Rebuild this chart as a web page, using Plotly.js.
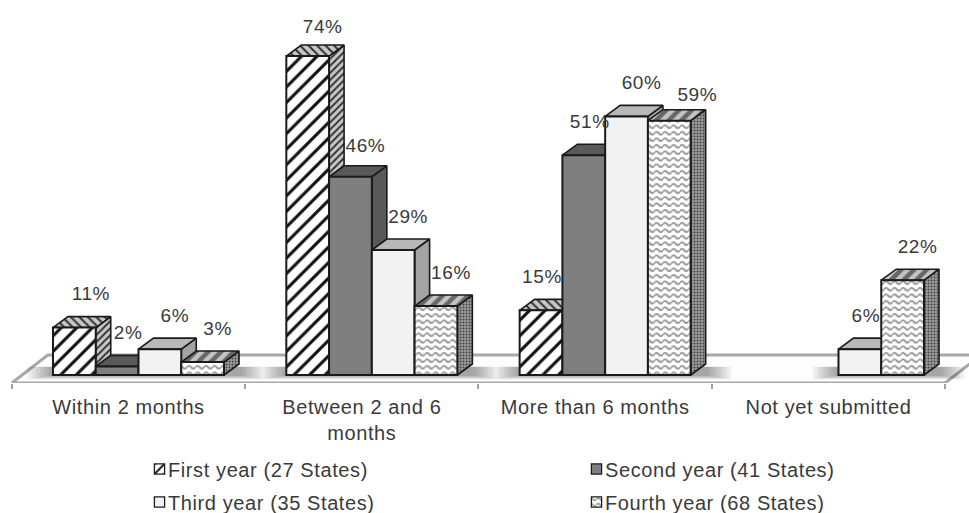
<!DOCTYPE html>
<html>
<head>
<meta charset="utf-8">
<script src="https://cdn.plot.ly/plotly-3.0.1.min.js"></script>
<style>
  html, body { margin: 0; padding: 0; background: #fff; }
  #chart { width: 969px; height: 513px; }
  #chart text { letter-spacing: 0.6px; }
</style>
</head>
<body>
<div id="chart"></div>
<script>
// Report timing by reporting year
const categories = ['Within 2 months', 'Between 2 and 6<br>months', 'More than 6 months', 'Not yet submitted'];
const firstYear  = [11, 74, 15, null];
const secondYear = [2, 46, 51, null];
const thirdYear  = [6, 29, 60, 6];
const fourthYear = [3, 16, 59, 22];
const seriesNames = ['First year (27 States)', 'Second year (41 States)', 'Third year (35 States)', 'Fourth year (68 States)'];

// Scale helpers: one x unit is one category group, y is in percent
const W = 969, PLOT_H = 383;
const UNIT_X = 233.33, UNIT_Y = 4.31;
const xRange = [-138.5 / UNIT_X, (W - 138.5) / UNIT_X];
const yRange = [-8 / UNIT_Y, 375 / UNIT_Y];
const DX = 15 / UNIT_X, DY = 11 / UNIT_Y;           // oblique depth of each bar
const GROUP = 0.733, SLOT = GROUP / 4;
const LABEL_SHIFT = -10 / UNIT_X;                   // category labels sit left of the bar groups
const slotLeft = (i, s) => i - GROUP / 2 + s * SLOT;
const ink = '#1a1a1a', textColor = '#3a3a3a';
const fontFamily = 'Liberation Sans, Arial, sans-serif';

const allSeries = [firstYear, secondYear, thirdYear, fourthYear];

// Side and top faces of each bar, as null-separated polygons
function sideFaces(vals, s) {
  const x = [], y = [];
  vals.forEach((v, i) => {
    if (v === null) return;
    const r = slotLeft(i, s) + SLOT;
    x.push(r, r + DX, r + DX, r, r, null);
    y.push(0, DY, v + DY, v, 0, null);
  });
  return { x, y };
}
function topFaces(vals, s) {
  const x = [], y = [];
  vals.forEach((v, i) => {
    if (v === null) return;
    const l = slotLeft(i, s), r = l + SLOT;
    x.push(l, r, r + DX, l + DX, l, null);
    y.push(v, v, v + DY, v + DY, v, null);
  });
  return { x, y };
}

const faceLine = { color: ink, width: 1.6 };
const sideStyle = [
  { fillcolor: '#b5b5b5', fillpattern: { shape: '/', fgcolor: '#333', bgcolor: '#c8c8c8', size: 5, solidity: 0.4 } },
  { fillcolor: '#595959' },
  { fillcolor: '#a3a3a3' },
  { fillcolor: '#8a8a8a', fillpattern: { shape: '.', fgcolor: '#444', bgcolor: '#9c9c9c', size: 3, solidity: 0.35 } }
];
const topStyle = [
  { fillcolor: '#b5b5b5', fillpattern: { shape: '\\', fgcolor: '#333', bgcolor: '#c8c8c8', size: 6, solidity: 0.35 } },
  { fillcolor: '#595959' },
  { fillcolor: '#b8b8b8' },
  { fillcolor: '#a0a0a0', fillpattern: { shape: '/', fgcolor: '#666', bgcolor: '#c4c4c4', size: 9, solidity: 0.5 } }
];

// Floor slab under the bars
const tickEdges = [0, 1, 2, 3, 4].map(k => k - 0.5 + LABEL_SHIFT);
const floorDX = 36 / UNIT_X, floorDY = 28 / UNIT_Y, floorY = yRange[0];
const traces = [{
  type: 'scatter', mode: 'lines', showlegend: false, hoverinfo: 'skip', cliponaxis: false,
  x: [tickEdges[0], tickEdges[4], tickEdges[4] + floorDX, tickEdges[0] + floorDX, tickEdges[0]],
  y: [floorY, floorY, floorY + floorDY, floorY + floorDY, floorY],
  fill: 'toself', fillcolor: '#fdfdfd', line: { color: '#a8a8a8', width: 3 }
}];

// Soft contact shadow around each group's base, built up from translucent layers
const shadowSteps = 10;
for (let k = shadowSteps; k >= 1; k--) {
  const x = [], y = [];
  categories.forEach((_, i) => {
    const used = allSeries.map((vals, s) => vals[i] !== null ? s : -1).filter(s => s >= 0);
    const l = slotLeft(i, used[0]), r = slotLeft(i, used[used.length - 1]) + SLOT + DX;
    const mx = k * 2.6 / UNIT_X, my = k * 0.45 / UNIT_Y;
    x.push(l - mx, r + mx, r + mx, l - mx, l - mx, null);
    y.push(-my, -my, DY * 0.75, DY * 0.75, -my, null);
  });
  traces.push({
    type: 'scatter', mode: 'lines', showlegend: false, hoverinfo: 'skip',
    x, y, fill: 'toself', fillcolor: 'rgba(0,0,0,0.04)', line: { width: 0 }
  });
}

// Depth faces first, left to right, so later tops cover earlier sides
allSeries.forEach((vals, s) => {
  traces.push(Object.assign({ type: 'scatter', mode: 'lines', showlegend: false, hoverinfo: 'skip',
    fill: 'toself', line: faceLine }, sideFaces(vals, s), sideStyle[s]));
  traces.push(Object.assign({ type: 'scatter', mode: 'lines', showlegend: false, hoverinfo: 'skip',
    fill: 'toself', line: faceLine }, topFaces(vals, s), topStyle[s]));
});

// Front faces: real bars on an overlaid pair of axes
const frontMarkers = [
  { color: '#fff', pattern: { shape: '/', fgcolor: '#111', bgcolor: '#fff', size: 11, solidity: 0.28 } },
  { color: '#7f7f7f' },
  { color: '#f2f2f2' },
  { color: '#fff', pattern: { shape: '-', fgcolor: '#a0a0a0', bgcolor: '#fff', size: 7, solidity: 0.3 } }
];
const xIdx = categories.map((_, i) => i);
allSeries.forEach((vals, s) => {
  traces.push({
    type: 'bar', name: seriesNames[s], x: xIdx, y: vals, xaxis: 'x2', yaxis: 'y2',
    legend: s < 2 ? 'legend' : 'legend2',
    marker: Object.assign({ line: { color: ink, width: 2 } }, frontMarkers[s]),
    hoverinfo: 'name+y'
  });
});

// Value labels above the depth of each bar, keyed "group,series"; a few are nudged (px)
const labelNudge = {
  '0,0': [1.5, 0], '0,1': [-4, 0],
  '1,0': [0, -4], '1,1': [0, -3],
  '2,0': [-14, 0], '2,1': [-9, 0], '2,3': [13, -8],
  '3,2': [-9, 0]
};
allSeries.forEach((vals, s) => {
  const x = [], y = [], text = [];
  vals.forEach((v, i) => {
    if (v === null) return;
    const n = labelNudge[i + ',' + s] || [0, 0];
    x.push(slotLeft(i, s) + SLOT / 2 + DX + n[0] / UNIT_X);
    y.push(v + (32 + n[1]) / UNIT_Y);
    text.push(v + '%');
  });
  traces.push({
    type: 'scatter', mode: 'text', showlegend: false, hoverinfo: 'skip', xaxis: 'x2', yaxis: 'y2',
    x, y, text, textposition: 'middle center', cliponaxis: false,
    textfont: { family: fontFamily, size: 19, color: textColor }
  });
});

const legendBase = {
  orientation: 'h', x: 128 / W, xanchor: 'left', yanchor: 'middle', entrywidth: 392, entrywidthmode: 'pixels',
  bgcolor: 'rgba(0,0,0,0)', traceorder: 'normal',
  font: { family: fontFamily, size: 20, color: textColor }
};
const rowY = py => (PLOT_H - py) / PLOT_H;

const layout = {
  width: W, height: 513, paper_bgcolor: '#fff', plot_bgcolor: '#fff',
  margin: { l: 0, r: 0, t: 0, b: 513 - PLOT_H, autoexpand: false },
  barmode: 'group', bargap: 1 - GROUP, bargroupgap: 0,
  showlegend: true,
  legend: Object.assign({}, legendBase, { y: rowY(469) }),
  legend2: Object.assign({}, legendBase, { y: rowY(502) }),
  font: { family: fontFamily, size: 18, color: textColor },
  xaxis: {
    range: xRange, showgrid: false, zeroline: false, showline: false, fixedrange: true,
    tickmode: 'array', tickvals: xIdx.map(i => i + LABEL_SHIFT), ticktext: categories,
    ticks: '', ticklabelstandoff: 10,
    tickfont: { family: fontFamily, size: 20, color: textColor },
    minor: { tickmode: 'array', tickvals: tickEdges, ticks: 'outside', ticklen: 5, tickwidth: 2, tickcolor: '#a0a0a0', showgrid: false }
  },
  yaxis: { range: yRange, visible: false, fixedrange: true },
  xaxis2: { range: xRange, overlaying: 'x', visible: false, fixedrange: true },
  yaxis2: { range: yRange, overlaying: 'y', visible: false, fixedrange: true }
};

const gd = document.getElementById('chart');
Plotly.newPlot(gd, traces, layout, { displayModeBar: false, staticPlot: true }).then(() => {
  // Wave fill for the fourth-year fronts, which Plotly has no built-in shape for
  const NS = 'http://www.w3.org/2000/svg';
  const svg = gd.querySelector('svg.main-svg');
  const defs = svg.querySelector('defs');
  const pattern = document.createElementNS(NS, 'pattern');
  pattern.setAttribute('id', 'wave-fill');
  pattern.setAttribute('patternUnits', 'userSpaceOnUse');
  pattern.setAttribute('width', '8.5');
  pattern.setAttribute('height', '6.5');
  pattern.innerHTML = '<rect width="8.5" height="6.5" fill="#fff"/>' +
    '<path d="M0 3.25 Q2.1 0.5 4.25 3.25 T8.5 3.25" fill="none" stroke="#989898" stroke-width="2"/>';
  defs.appendChild(pattern);
  const barTraces = gd.querySelectorAll('.barlayer .trace.bars');
  barTraces[barTraces.length - 1].querySelectorAll('path').forEach(p => { p.style.fill = 'url(#wave-fill)'; });

  // Smaller legend swatches, pulled in next to their text
  gd.querySelectorAll('.legendsymbols').forEach(g => {
    g.setAttribute('transform', 'translate(14.5,0) scale(0.85)');
  });
  const legend2Items = gd.querySelectorAll('.legend2 .traces');
  legend2Items[legend2Items.length - 1].querySelectorAll('.legendpoints path').forEach(p => { p.style.fill = 'url(#wave-fill)'; });
  gd.querySelectorAll('.legendpoints path').forEach(p => { p.style.strokeWidth = '1.5px'; });
});
</script>
</body>
</html>
